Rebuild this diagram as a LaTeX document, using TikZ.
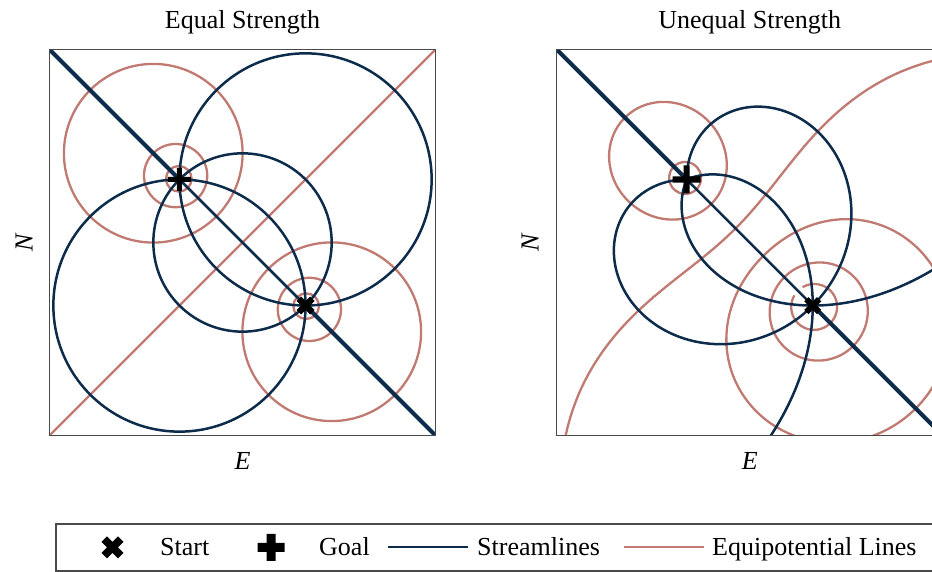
\documentclass[tikz,border=0pt]{standalone}
\usepackage{fontspec}
\setmainfont{Liberation Serif}
\definecolor{navy}{HTML}{0D2B4B}
\definecolor{rose}{HTML}{C07A72}
\definecolor{framec}{HTML}{4A4A4A}
\tikzset{
  stream/.style={draw=navy, line width=2.5pt},
  cutline/.style={draw=navy, line width=4pt},
  equi/.style={draw=rose, line width=2.3pt},
  frameline/.style={draw=framec, line width=1.3pt},
  lbl/.style={font=\fontsize{26}{30}\selectfont, inner sep=0pt},
  declare function={
    rr(\t,\x,\y)=(\x)+((\y)-(\x))*(1-cos(\t))/2;
    sg(\x,\z)=exp(1.5*ln(\x)-(\z));
    xa(\x,\z)=((\x)*(\x)-sg(\x,\z)*sg(\x,\z)+2)/2.828427;
    ha(\x,\z)=sqrt(max((\x)*(\x)-xa(\x,\z)*xa(\x,\z),0));
    bt(\t,\z)=-45+1.5*((\t)-(\z));
    tt(\t,\z)=-(sin(bt(\t,\z))+cos(bt(\t,\z)))/sin(bt(\t,\z)-(\t));
  },
  pics/plusm/.style={code={
    \fill[black] (-0.1667pt,-0.5pt) -- (0.1667pt,-0.5pt) -- (0.1667pt,-0.1667pt) -- (0.5pt,-0.1667pt)
      -- (0.5pt,0.1667pt) -- (0.1667pt,0.1667pt) -- (0.1667pt,0.5pt) -- (-0.1667pt,0.5pt)
      -- (-0.1667pt,0.1667pt) -- (-0.5pt,0.1667pt) -- (-0.5pt,-0.1667pt) -- (-0.1667pt,-0.1667pt) -- cycle;
  }},
  pics/plusthin/.style={code={
    \fill[black] (-0.11pt,-0.5pt) -- (0.11pt,-0.5pt) -- (0.11pt,-0.11pt) -- (0.5pt,-0.11pt)
      -- (0.5pt,0.11pt) -- (0.11pt,0.11pt) -- (0.11pt,0.5pt) -- (-0.11pt,0.5pt)
      -- (-0.11pt,0.11pt) -- (-0.5pt,0.11pt) -- (-0.5pt,-0.11pt) -- (-0.11pt,-0.11pt) -- cycle;
  }},
  pics/xm/.style={code={
    \fill[black] (-0.25pt,-0.5pt) -- (0pt,-0.25pt) -- (0.25pt,-0.5pt) -- (0.5pt,-0.25pt)
      -- (0.25pt,0pt) -- (0.5pt,0.25pt) -- (0.25pt,0.5pt) -- (0pt,0.25pt)
      -- (-0.25pt,0.5pt) -- (-0.5pt,0.25pt) -- (-0.25pt,0pt) -- (-0.5pt,-0.25pt) -- cycle;
  }}
}
\begin{document}
\begin{tikzpicture}[x=1pt,y=1pt]
\clip (0,0) rectangle (932,572);
% titles and axis labels
\node[lbl, anchor=base] (t1) at (242.5,543.6) {Equal Strength};
\node[lbl, anchor=base] (t2) at (749.7,543.6) {Unequal Strength};
\node[lbl, anchor=base] (e1) at (242.5,102.7) {\textit{E}};
\node[lbl, anchor=base] (e2) at (749.7,102.7) {\textit{E}};
\node[lbl, rotate=90] (n1) at (24,329.5) {\textit{N}};
\node[lbl, rotate=90] (n2) at (530,329.5) {\textit{N}};

% ---------------- left panel: equal strength ----------------
\begin{scope}[shift={(49.5pt,136.5pt)}, x=128.667pt, y=128.667pt]
  \begin{scope}
    \clip (0,0) rectangle (3,3);
    \begin{scope}[shift={(1.5,1.5)}, scale=0.98, shift={(-1.5,-1.5)}]
      \coordinate (G1) at (1,2);
      \coordinate (S1) at (2,1);
      \coordinate (A1) at (-0.6,-0.6);
      \coordinate (B1) at (3.6,3.6);
      \coordinate (C1) at (-0.6,3.6);
      \coordinate (D1) at (3.6,-0.6);
      % equipotential lines
      \draw[equi] (A1) -- (B1);
      \draw[equi] (0.79221,2.20779) circle[radius=0.70848];
      \draw[equi] (0.96950,2.03050) circle[radius=0.25072];
      \draw[equi] (0.99488,2.00512) circle[radius=0.10144];
      \draw[equi] (2.20779,0.79221) circle[radius=0.70848];
      \draw[equi] (2.03050,0.96950) circle[radius=0.25072];
      \draw[equi] (2.00512,0.99488) circle[radius=0.10144];
      % streamlines
      \draw[stream] (2,2) circle[radius=1];
      \draw[stream] (1,1) circle[radius=1];
      \draw[stream] (1.5,1.5) circle[radius=0.707107];
      \draw[stream] (G1) -- (S1);
      \draw[cutline] (C1) -- (G1);
      \draw[cutline] (S1) -- (D1);
    \end{scope}
  \end{scope}
  \draw[frameline] (0,0) rectangle (3,3);
  \pic[scale=23] at (G1) {plusthin};
  \pic[scale=18] at (S1) {xm};
\end{scope}

% ---------------- right panel: unequal strength ----------------
\begin{scope}[shift={(556.7pt,136.5pt)}, x=128.667pt, y=128.667pt]
  \begin{scope}
    \clip (0,0) rectangle (3,3);
    \begin{scope}[shift={(1.5,1.5)}, scale=0.98, shift={(-1.5,-1.5)}]
      \coordinate (G2) at (1,2);
      \coordinate (S2) at (2,1);
      \coordinate (C2) at (-0.6,3.6);
      \coordinate (D2) at (3.6,-0.6);
      % equipotential lines: 1.5 ln r_S - ln r_G = c
      \foreach \A/\B/\C/\N in {0.16625/0.19785/-2.91/80, 0.3175/0.4544/-1.81/120,
                               0.5550/1.1550/-0.728/200, 0.8645/3.9600/0.383/360,
                               1.1383/2.1075/1.485/160, 1.3037/1.5584/2.604/80}{
        \draw[equi] plot[variable=\t, domain=0:180, samples=\N]
          ({2-0.707107*xa(rr(\t,\A,\B),\C)+0.707107*ha(rr(\t,\A,\B),\C)},
           {1+0.707107*xa(rr(\t,\A,\B),\C)+0.707107*ha(rr(\t,\A,\B),\C)});
        \draw[equi] plot[variable=\t, domain=0:180, samples=\N]
          ({2-0.707107*xa(rr(\t,\A,\B),\C)-0.707107*ha(rr(\t,\A,\B),\C)},
           {1+0.707107*xa(rr(\t,\A,\B),\C)-0.707107*ha(rr(\t,\A,\B),\C)});
      }
      % streamlines: 1.5 theta_S - theta_G = const
      \foreach \P/\Q/\R in {45/135/45, 90/135/90, 135/180/180, 135/225/225, 0/50/0, 225/270/270}{
        \draw[stream] plot[variable=\t, domain=\P:\Q, samples=120]
          ({2+tt(\t,\R)*cos(\t)},{1+tt(\t,\R)*sin(\t)});
      }
      \draw[stream] (G2) -- (S2);
      \draw[cutline] (C2) -- (G2);
      \draw[cutline] (S2) -- (D2);
    \end{scope}
  \end{scope}
  \draw[frameline] (0,0) rectangle (3,3);
  \pic[scale=28] at (G2) {plusthin};
  \pic[scale=17] at (S2) {xm};
\end{scope}

% ---------------- legend ----------------
\draw[frameline] (56,1) rectangle (950,48);
\pic[scale=22] at (112.5,24.5) {xm};
\node[lbl, anchor=base west] (ls) at (160,16) {Start};
\pic[scale=27] at (271,24.5) {plusm};
\node[lbl, anchor=base west] (lg) at (319,16) {Goal};
\coordinate (la1) at (388,25);
\coordinate (la2) at (468,25);
\draw[stream] (la1) -- (la2);
\node[lbl, anchor=base west] (lst) at (477,16) {Streamlines};
\coordinate (lb1) at (624,25);
\coordinate (lb2) at (704,25);
\draw[equi] (lb1) -- (lb2);
\node[lbl, anchor=base west] (leq) at (712,16) {Equipotential Lines};
\end{tikzpicture}
\end{document}
